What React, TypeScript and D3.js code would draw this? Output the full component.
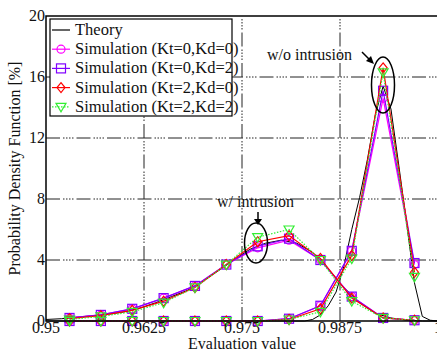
import React from 'react';
import * as d3 from 'd3';

const width = 437;
const height = 351;

// sample positions of the simulation markers
const simX = [0.953, 0.957, 0.961, 0.965, 0.969, 0.973, 0.977, 0.981, 0.985, 0.989, 0.993, 0.997];

// w/ intrusion distribution
const intrKt0Kd0 = [0.2, 0.4, 0.8, 1.5, 2.3, 3.7, 4.8, 5.3, 4.0, 1.6, 0.2, 0.05];
const intrKt0Kd2 = [0.2, 0.4, 0.8, 1.5, 2.3, 3.7, 4.9, 5.4, 4.0, 1.6, 0.2, 0.05];
const intrKt2Kd0 = [0.15, 0.35, 0.7, 1.3, 2.2, 3.7, 5.2, 5.6, 4.1, 1.5, 0.2, 0.05];
const intrKt2Kd2 = [0.1, 0.3, 0.6, 1.2, 2.2, 3.7, 5.5, 6.0, 4.0, 1.3, 0.2, 0.05];

// w/o intrusion distribution
const normKt0Kd0 = [0, 0, 0, 0, 0, 0, 0, 0.15, 1.0, 4.6, 14.6, 3.7];
const normKt0Kd2 = [0, 0, 0, 0, 0, 0, 0, 0.15, 1.0, 4.6, 15.1, 3.8];
const normKt2Kd0 = [0, 0, 0, 0, 0, 0, 0, 0.1, 0.8, 4.3, 16.6, 3.2];
const normKt2Kd2 = [0, 0, 0, 0, 0, 0, 0, 0.1, 0.6, 4.1, 16.3, 2.9];

// theory curves
const theoryIntrX = [0.95, 0.952, 0.954, 0.956, 0.958, 0.96, 0.962, 0.964, 0.966, 0.968, 0.97, 0.972, 0.974,
  0.976, 0.978, 0.98, 0.982, 0.984, 0.986, 0.988, 0.99, 0.992, 0.994, 0.996, 0.998, 1.0];
const theoryIntrY = [0.1, 0.15, 0.25, 0.35, 0.45, 0.6, 0.85, 1.2, 1.6, 2.0, 2.6, 3.3, 4.0,
  4.7, 5.1, 5.3, 5.1, 4.5, 3.4, 2.2, 1.2, 0.5, 0.2, 0.05, 0, 0];
const theoryNormX = [0.95, 0.98, 0.983, 0.984, 0.985, 0.986, 0.987, 0.988, 0.989, 0.99, 0.991, 0.992,
  0.993, 0.994, 0.995, 0.996, 0.997, 0.998, 0.999, 1.0];
const theoryNormY = [0, 0, 0, 0.1, 0.4, 1.0, 1.9, 3.6, 6.0, 8.1, 10.6, 13.5,
  15.4, 13.9, 10.2, 6.4, 2.5, 0.3, 0.05, 0];

const xTicks = [0.95, 0.9625, 0.975, 0.9875, 1];
const xTickLabels = ['0.95', '0.9625', '0.975', '0.9875', '1'];
const yTicks = [0, 4, 8, 12, 16, 20];

const legendLabels = [
  'Theory',
  'Simulation (Kt=0,Kd=0)',
  'Simulation (Kt=0,Kd=2)',
  'Simulation (Kt=2,Kd=0)',
  'Simulation (Kt=2,Kd=2)',
];

const series = [
  { intr: intrKt0Kd0, norm: normKt0Kd0, color: '#ff00ff', marker: 'circle', dash: null },
  { intr: intrKt0Kd2, norm: normKt0Kd2, color: '#8000ff', marker: 'square', dash: null },
  { intr: intrKt2Kd0, norm: normKt2Kd0, color: '#ff0000', marker: 'diamond', dash: null },
  { intr: intrKt2Kd2, norm: normKt2Kd2, color: '#33ee33', marker: 'triangle', dash: '1.5,1.5' },
];

const font = 'Liberation Serif, DejaVu Serif, serif';
const gridDash = '14,3,1.5,1.5,1.5,1.5,1.5,1.5,1.5,3';

const x = d3.scaleLinear().domain([0.95, 1]).range([46, 438]);
const y = d3.scaleLinear().domain([0, 20]).range([321, 16]);

const Marker = ({ type, cx, cy, color }: { type: string; cx: number; cy: number; color: string }) => {
  if (type === 'circle') return <circle cx={cx} cy={cy} r={4} fill="none" stroke={color} strokeWidth={1.2} />;
  if (type === 'square') return <rect x={cx - 4.5} y={cy - 4.5} width={9} height={9} fill="none" stroke={color} strokeWidth={1.2} />;
  if (type === 'diamond')
    return <path d={`M${cx},${cy - 5}L${cx + 4},${cy}L${cx},${cy + 5}L${cx - 4},${cy}Z`} fill="none" stroke={color} strokeWidth={1.2} />;
  return <path d={`M${cx - 5},${cy - 3.5}L${cx + 5},${cy - 3.5}L${cx},${cy + 5}Z`} fill="none" stroke={color} strokeWidth={1.2} />;
};

const App = () => {
  const line = d3.line<[number, number]>().x(d => x(d[0])).y(d => y(d[1]));
  const zip = (xs: number[], ys: number[]) => xs.map((v, i) => [v, ys[i]] as [number, number]);

  return (
    <svg width={width} height={height} style={{ position: 'absolute', left: 0, top: 0, background: '#fff' }}>
      {/* grid */}
      {xTicks.slice(1, -1).map((t, i) => (
        <line key={'gx' + i} x1={x(t)} x2={x(t)} y1={y(0)} y2={y(20)} stroke="#222" strokeWidth={1} strokeDasharray={gridDash} />
      ))}
      {yTicks.slice(1, -1).map((t, i) => (
        <line key={'gy' + i} x1={x(0.95)} x2={x(1)} y1={y(t)} y2={y(t)} stroke="#222" strokeWidth={1} strokeDasharray={gridDash} />
      ))}

      {/* theory */}
      <path d={line(zip(theoryIntrX, theoryIntrY)) || ''} fill="none" stroke="#000" strokeWidth={1} />
      <path d={line(zip(theoryNormX, theoryNormY)) || ''} fill="none" stroke="#000" strokeWidth={1} />

      {/* simulations */}
      {series.map((s, i) => (
        <g key={'s' + i}>
          {[s.intr, s.norm].map((vals, j) => (
            <g key={j}>
              <path d={line(zip(simX, vals)) || ''} fill="none" stroke={s.color} strokeWidth={1.2}
                strokeDasharray={s.dash || undefined} />
              {simX.map((v, k) => (
                <Marker key={k} type={s.marker} cx={x(v)} cy={y(vals[k])} color={s.color} />
              ))}
            </g>
          ))}
        </g>
      ))}

      {/* frame */}
      <path d={`M${x(1)},${y(20)}H${x(0.95)}V${y(0)}H${x(1)}`} fill="none" stroke="#000" strokeWidth={1.5} />

      <g fontFamily={font} fill="#111">
        {/* ticks */}
        {yTicks.map((t, i) => (
          <text key={'yt' + i} x={45} y={y(t) + 5} fontSize={16} textAnchor="end">{t}</text>
        ))}
        {xTicks.map((t, i) => (
          <text key={'xt' + i} x={x(t)} y={333} fontSize={16} textAnchor="middle">{xTickLabels[i]}</text>
        ))}

        {/* axis titles */}
        <text x={242} y={349} fontSize={16} textAnchor="middle">Evaluation value</text>
        <text transform={`translate(20,${y(10)}) rotate(-90)`} fontSize={16} textAnchor="middle">
          Probability Density Function [%]
        </text>
      </g>

      {/* legend */}
      <rect x={50} y={19} width={182} height={97} fill="#fff" stroke="#000" strokeWidth={1.2} />
      {legendLabels.map((lab, i) => {
        const ly = 30 + i * 19.2;
        const s = i > 0 ? series[i - 1] : null;
        return (
          <g key={'lg' + i}>
            <line x1={52} x2={70} y1={ly} y2={ly} stroke={s ? s.color : '#000'} strokeWidth={1.2}
              strokeDasharray={s && s.dash ? s.dash : undefined} />
            {s && <Marker type={s.marker} cx={61} cy={ly} color={s.color} />}
            <text x={75} y={ly + 5} fontSize={16.5} fill="#111" fontFamily={font}>{lab}</text>
          </g>
        );
      })}

      {/* annotations */}
      <text x={267} y={60} fontSize={16} fill="#111" fontFamily={font}>w/o intrusion</text>
      <line x1={362} y1={52} x2={372} y2={62} stroke="#000" strokeWidth={1.5} />
      <path d="M374,64 L366,61 L371,56 Z" fill="#000" />
      <ellipse cx={383} cy={85} rx={11.5} ry={28} fill="none" stroke="#000" strokeWidth={1.5} />

      <text x={217} y={207} fontSize={16} fill="#111" fontFamily={font}>w/ intrusion</text>
      <line x1={258} y1={212} x2={258} y2={220} stroke="#000" strokeWidth={1.5} />
      <path d="M254,219 L262,219 L258,225 Z" fill="#000" />
      <ellipse cx={256} cy={243} rx={11.5} ry={20} fill="none" stroke="#000" strokeWidth={1.5} />
    </svg>
  );
};

export default App;
